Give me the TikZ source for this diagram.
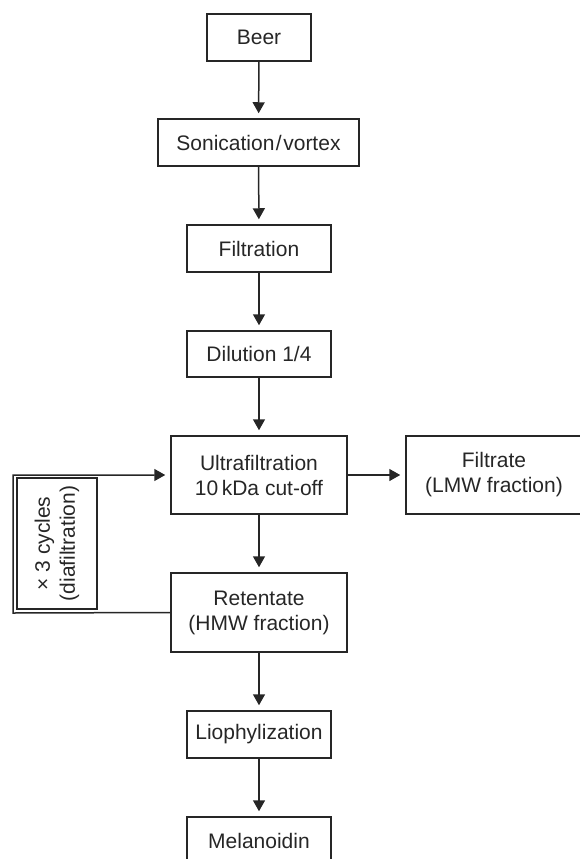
\documentclass[tikz,border=0pt]{standalone}
\usepackage{fontspec}
\setmainfont{Liberation Sans}
\usetikzlibrary{arrows.meta,positioning}

\tikzset{
  stage/.style={draw=black!85, line width=1.5pt, align=center, inner sep=0pt,
    font=\fontsize{21}{25}\selectfont, text=black!85},
  flow/.style={draw=black!85, line width=1.5pt, -{Triangle[length=11pt,width=12pt]}, shorten >=5pt},
}

\begin{document}
\begin{tikzpicture}[x=1pt,y=-1pt]
  \useasboundingbox (0,0) rectangle (580,859);
  \clip (0,0) rectangle (580,859);
  % main line of the process
  \node[stage, minimum width=104pt, minimum height=47pt] (beer)   at (259,37.5)  {Beer};
  \node[stage, minimum width=201pt, minimum height=47pt] (sonic)  at (258.5,142.5) {Sonication\kern1.5pt/\kern1.5pt vortex};
  \node[stage, minimum width=144pt, minimum height=47pt] (filt)   at (259,248.5) {Filtration};
  \node[stage, minimum width=144pt, minimum height=46pt] (dil)    at (259,354)   {Dilution 1/4};
  \node[stage, minimum width=176pt, minimum height=78pt] (ultra)  at (259,475)   {Ultrafiltration\\10\,kDa cut-off};
  \node[stage, minimum width=176pt, minimum height=78pt] (lmw)    at (494,475)   {Filtrate\\(LMW fraction)};
  \node[stage, minimum width=176pt, minimum height=79pt] (reten)  at (259,612.5) {Retentate\\(HMW fraction)};
  \node[stage, minimum width=144pt, minimum height=47pt] (lyo)    at (259,734.5) {Liophylization};
  \node[stage, minimum width=144pt, minimum height=47pt] (mel)    at (259,840.5) {Melanoidin};
  % diafiltration loop
  \node[stage, rotate=90, minimum width=131pt, minimum height=80pt] (cycles) at (57,543.5)
    {× 3 cycles\\(diafiltration)};
  \coordinate (loopbot) at (13,613);
  \coordinate (looptop) at (13,475);

  \foreach \a/\b in {beer/sonic,sonic/filt,filt/dil,dil/ultra,ultra/reten,reten/lyo,lyo/mel,ultra/lmw}{
    \draw[flow] (\a) -- (\b);
  }
  \draw[flow] (reten.west) -- (loopbot) -- (looptop) -- (ultra.west);
\end{tikzpicture}
\end{document}
